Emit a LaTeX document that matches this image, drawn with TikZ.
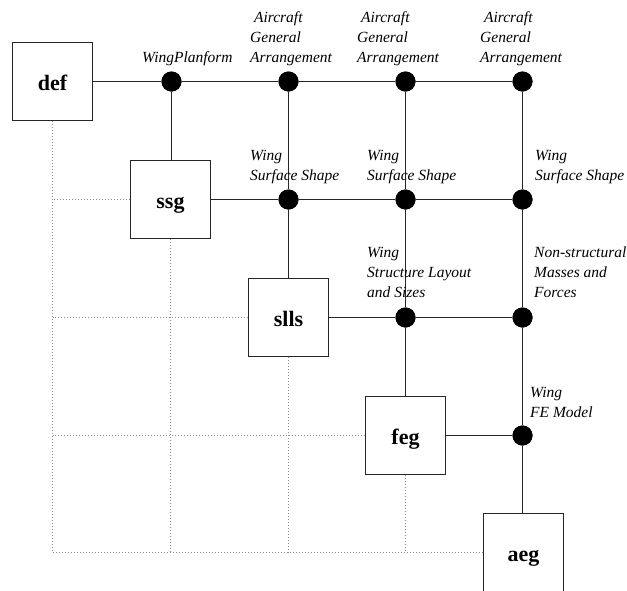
\documentclass[tikz,border=0pt]{standalone}
\usepackage{fontspec}
\setmainfont{Liberation Serif}
\begin{document}
\begin{tikzpicture}[x=1pt,y=-1pt,
  tool/.style={draw=black!85,line width=0.9pt,fill=white,minimum width=80pt,minimum height=78pt,inner sep=0pt,
    text height=18pt,text depth=0pt,font=\fontsize{22}{24}\selectfont\bfseries},
  hub/.style={circle,fill=black,minimum size=20pt,inner sep=0pt},
  flow/.style={line width=0.9pt,black!85},
  grid/.style={line width=0.8pt,black!45,dash pattern=on 1pt off 2pt},
  tag/.style={anchor=base west,inner sep=0pt,align=left,
    font=\fontsize{15.5}{20}\selectfont\itshape}]
\useasboundingbox (0,0) rectangle (627,590);

% design tools on the diagonal
\node[tool] (def)  at (52.5,81.5)  {def};
\node[tool] (ssg)  at (170.5,199.5) {ssg};
\node[tool] (slls) at (288.5,317.5) {slls};
\node[tool] (feg)  at (405.5,435.5) {feg};
\node[tool] (aeg)  at (523.5,552.5) {aeg};

% data hubs
\node[hub] (h11) at (171.5,81.5) {};
\node[hub] (h12) at (288.5,81.5) {};
\node[hub] (h13) at (405.5,81.5) {};
\node[hub] (h14) at (522.5,81.5) {};
\node[hub] (h22) at (288.5,199.5) {};
\node[hub] (h23) at (405.5,199.5) {};
\node[hub] (h24) at (522.5,199.5) {};
\node[hub] (h33) at (405.5,317.5) {};
\node[hub] (h34) at (522.5,317.5) {};
\node[hub] (h44) at (522.5,435.5) {};

% corner of the dotted frame
\coordinate (corner) at (def.south |- aeg.west);

% dotted frame lines
\draw[grid] (def.south) -- (corner) -- (aeg.west);
\draw[grid] (ssg.west) -- (ssg.west -| def.south);
\draw[grid] (slls.west) -- (slls.west -| def.south);
\draw[grid] (feg.west) -- (feg.west -| def.south);
\draw[grid] (ssg.south) -- (ssg.south |- corner);
\draw[grid] (slls.south) -- (slls.south |- corner);
\draw[grid] (feg.south) -- (feg.south |- corner);

% solid data flows
\draw[flow] (def.east) -- (h11) -- (h12) -- (h13) -- (h14);
\draw[flow] (h11) -- (ssg.north -| h11);
\draw[flow] (h12) -- (h22) -- (slls.north -| h22);
\draw[flow] (h13) -- (h23) -- (h33) -- (feg.north -| h33);
\draw[flow] (h14) -- (h24) -- (h34) -- (h44) -- (aeg.north -| h44);
\draw[flow] (ssg.east) -- (h22) -- (h23) -- (h24);
\draw[flow] (slls.east) -- (h33) -- (h34);
\draw[flow] (feg.east) -- (h44);

% redraw hubs on top of the lines
\foreach \h in {h11,h12,h13,h14,h22,h23,h24,h33,h34,h44}
  \fill (\h) circle (10pt);

% labels (anchored at the baseline of their last line)
\node[tag] (l11) at (142,62) {WingPlanform};
\node[tag] (l12) at (250,62) {\ Aircraft\\General\\Arrangement};
\node[tag] (l13) at (357,62) {\ Aircraft\\General\\Arrangement};
\node[tag] (l14) at (480,62) {\ Aircraft\\General\\Arrangement};
\node[tag] (l22) at (250,180) {Wing\\Surface Shape};
\node[tag] (l23) at (367,180) {Wing\\Surface Shape};
\node[tag] (l24) at (535,180) {Wing\\Surface Shape};
\node[tag] (l33) at (367,297) {Wing\\Structure Layout\\and Sizes};
\node[tag] (l34) at (534,297) {Non-structural\\Masses and\\Forces};
\node[tag] (l44) at (530,417) {Wing\\FE Model};
\end{tikzpicture}
\end{document}
